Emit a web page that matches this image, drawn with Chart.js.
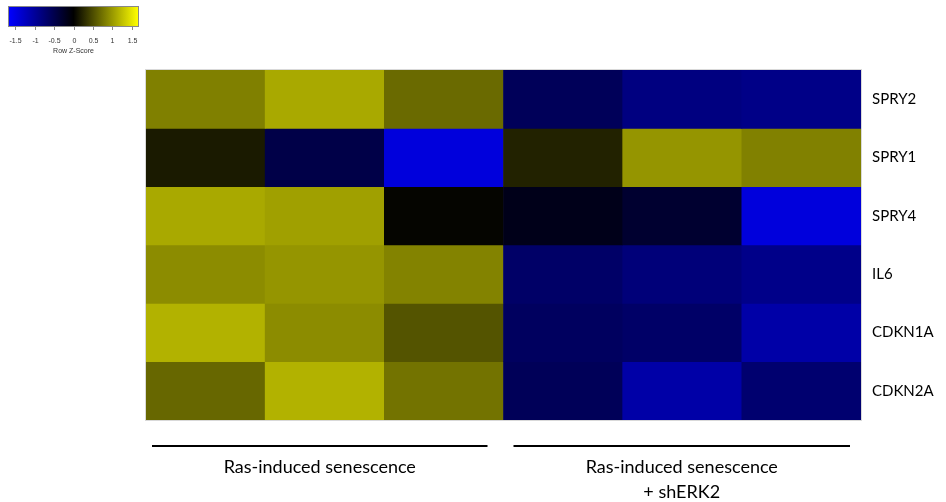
<!DOCTYPE html>
<html>
<head>
<meta charset="utf-8">
<script src="https://cdn.jsdelivr.net/npm/chart.js@4"></script>
<style>
html,body{margin:0;padding:0;background:#fff;}
#wrap{position:relative;width:946px;height:502px;}
</style>
</head>
<body>
<div id="wrap"><canvas id="c" width="946" height="502"></canvas></div>
<script>
// Samples (columns) and genes (rows)
const samples = ["RIS 1", "RIS 2", "RIS 3", "RIS+shERK2 1", "RIS+shERK2 2", "RIS+shERK2 3"];
const genes = ["SPRY2", "SPRY1", "SPRY4", "IL6", "CDKN1A", "CDKN2A"];
// Row z-scores per gene
const SPRY2  = [0.83, 1.10, 0.69, -0.58, -0.83, -0.88];
const SPRY1  = [0.17, -0.47, -1.43, 0.22, 0.97, 0.84];
const SPRY4  = [1.10, 1.04, 0.03, -0.16, -0.31, -1.43];
const IL6    = [0.91, 0.97, 0.85, -0.67, -0.79, -0.89];
const CDKN1A = [1.16, 0.91, 0.55, -0.62, -0.67, -1.09];
const CDKN2A = [0.67, 1.16, 0.75, -0.57, -1.09, -0.72];
const zRows = [SPRY2, SPRY1, SPRY4, IL6, CDKN1A, CDKN2A];
const legendTicks = [-1.5, -1, -0.5, 0, 0.5, 1, 1.5];
const groupLabels = [["Ras-induced senescence"], ["Ras-induced senescence", "+ shERK2"]];
const Z_MAX = 1.66;

function zColor(z) {
  let t = Math.max(-1, Math.min(1, z / Z_MAX));
  if (t < 0) return `rgb(0,0,${Math.round(-t * 255)})`;
  const v = Math.round(t * 255);
  return `rgb(${v},${v},0)`;
}

const datasets = genes.map((g, r) => ({
  label: g,
  data: samples.map(() => [r, r + 1]),
  backgroundColor: zRows[r].map(zColor),
  borderWidth: 0,
  barPercentage: 1,
  categoryPercentage: 1,
  grouped: false
}));

const extras = {
  id: 'extras',
  afterDraw(chart) {
    const ctx = chart.ctx;
    const x = chart.scales.x;
    const area = chart.chartArea;
    ctx.save();
    ctx.strokeStyle = '#d9d9d9';
    ctx.lineWidth = 1;
    ctx.strokeRect(area.left - 0.5, area.top - 0.5, area.right - area.left + 1, area.bottom - area.top + 1);
    const colW = (area.right - area.left) / samples.length;
    const groups = [[0, 2, 6, -16], [3, 5, 10, -11]];
    ctx.fillStyle = '#000';
    ctx.strokeStyle = '#000';
    ctx.lineWidth = 2;
    ctx.textAlign = 'center';
    ctx.textBaseline = 'middle';
    ctx.font = '18px Lato, "Open Sans", sans-serif';
    groups.forEach((g, i) => {
      const x0 = x.getPixelForValue(g[0]) - colW / 2 + g[2];
      const x1 = x.getPixelForValue(g[1]) + colW / 2 + g[3];
      ctx.beginPath();
      ctx.moveTo(x0, 446);
      ctx.lineTo(x1, 446);
      ctx.stroke();
      const cx = (x0 + x1) / 2;
      groupLabels[i].forEach((t, k) => ctx.fillText(t, cx, 467 + k * 25));
    });
    // color key
    const bx0 = 9, bx1 = 138, by0 = 7, by1 = 26;
    const grad = ctx.createLinearGradient(bx0, 0, bx1, 0);
    grad.addColorStop(0, 'rgb(0,0,255)');
    grad.addColorStop(0.5, 'rgb(0,0,0)');
    grad.addColorStop(1, 'rgb(255,255,0)');
    ctx.fillStyle = grad;
    ctx.fillRect(bx0, by0, bx1 - bx0, by1 - by0);
    ctx.strokeStyle = '#888';
    ctx.lineWidth = 1;
    ctx.strokeRect(bx0 - 0.5, by0 - 0.5, bx1 - bx0 + 1, by1 - by0 + 1);
    const zx = v => bx0 + (v + Z_MAX) / (2 * Z_MAX) * (bx1 - bx0);
    ctx.fillStyle = '#333';
    ctx.font = '7px "Liberation Sans", Arial, sans-serif';
    legendTicks.forEach(v => {
      const px = Math.round(zx(v)) + 0.5;
      ctx.beginPath();
      ctx.moveTo(px, by1 + 1);
      ctx.lineTo(px, by1 + 4);
      ctx.stroke();
      ctx.fillText(String(v), px, 41);
    });
    ctx.fillText('Row Z-Score', (bx0 + bx1) / 2, 51);
    ctx.restore();
  }
};

new Chart(document.getElementById('c'), {
  type: 'bar',
  data: { labels: samples, datasets },
  options: {
    responsive: false,
    animation: false,
    layout: { padding: { left: 146, top: 70, bottom: 82, right: 0 } },
    plugins: { legend: { display: false }, tooltip: { enabled: false } },
    scales: {
      x: { display: false, offset: true },
      y: { type: 'linear', min: 0, max: 6, reverse: true, display: false },
      y2: {
        type: 'category', labels: genes, position: 'right', offset: true,
        grid: { display: false, drawTicks: false }, border: { display: false },
        ticks: { color: '#000', padding: 11, font: { family: 'Lato, "Open Sans", sans-serif', size: 15 } },
        afterFit(s) { s.width = 85; }
      }
    }
  },
  plugins: [extras]
});
</script>
</body>
</html>
